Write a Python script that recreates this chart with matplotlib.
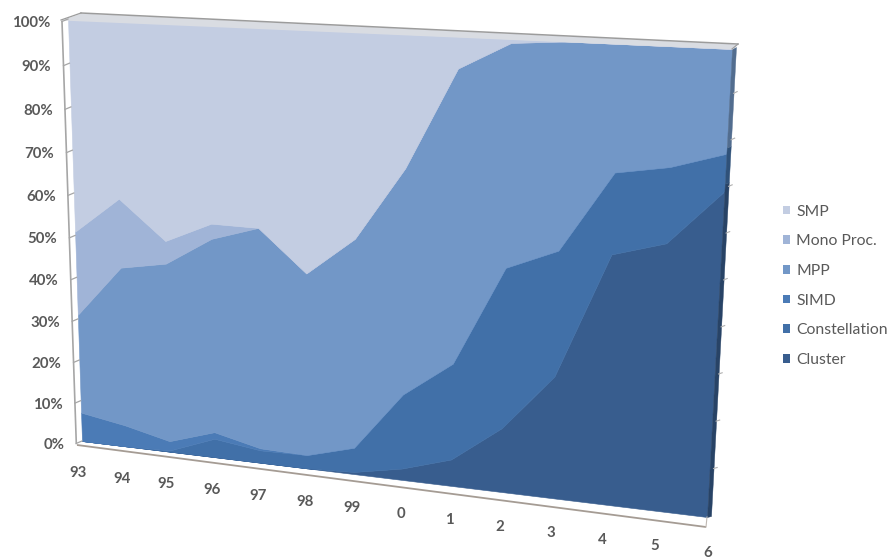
import numpy as np
import matplotlib
matplotlib.use("Agg")
import matplotlib.pyplot as plt
from matplotlib.transforms import Transform, Affine2D
from matplotlib.patches import Patch

# ---- data: share of systems per architecture (percent) ----
years = ["93", "94", "95", "96", "97", "98", "99", "0", "1", "2", "3", "4", "5", "6"]

cluster       = [0, 0, 0, 0, 0, 0, 0.5, 2.7, 6.2, 14.8, 27.8, 55.8, 59.1, 70.9]
constellation = [0, 0, 0.3, 4.5, 3.0, 3.2, 5.8, 17.4, 22.2, 36.2, 27.9, 17.5, 16.1, 7.8]
simd          = [7.1, 5.2, 2.3, 1.6, 0.5, 0, 0, 0, 0, 0, 0, 0, 0, 0]
mpp           = [24.0, 38.2, 42.7, 45.9, 51.9, 42.7, 48.4, 51.1, 64.9, 48.2, 44.3, 26.7, 24.8, 21.3]
mono_proc     = [19.9, 16.2, 5.3, 3.5, 0, 0, 0, 0, 0, 0, 0, 0, 0, 0]
smp           = [49.0, 40.4, 49.4, 44.5, 44.6, 54.1, 45.3, 28.8, 6.7, 0.8, 0, 0, 0, 0]

# stacking order, bottom to top
series = [
    ("Cluster", cluster, "#385d8e"),
    ("Constellation", constellation, "#4170a8"),
    ("SIMD", simd, "#4b7bb6"),
    ("MPP", mpp, "#7297c7"),
    ("Mono Proc.", mono_proc, "#a0b4d7"),
    ("SMP", smp, "#c3cde2"),
]

W, H = 893, 559
fig = plt.figure(figsize=(W / 100, H / 100), dpi=100)
fig.patch.set_facecolor("white")
ax = fig.add_axes([0, 0, 1, 1])
ax.set_axis_off()


class Homography(Transform):
    """Projective map of the unit square onto a quadrilateral (pixel coords, y down)."""
    input_dims = output_dims = 2
    is_separable = False
    has_inverse = False

    def __init__(self, quad):
        super().__init__()
        src = [(0, 0), (1, 0), (1, 1), (0, 1)]
        A, b = [], []
        for (u, v), (x, y) in zip(src, quad):
            A.append([u, v, 1, 0, 0, 0, -u * x, -v * x]); b.append(x)
            A.append([0, 0, 0, u, v, 1, -u * y, -v * y]); b.append(y)
        p = np.linalg.solve(np.array(A, float), np.array(b, float))
        self.m = np.append(p, 1.0).reshape(3, 3)

    def transform_non_affine(self, values):
        v = np.asarray(values, float).reshape(-1, 2)
        q = np.column_stack([v, np.ones(len(v))]) @ self.m.T
        return q[:, :2] / q[:, 2:3]


to_fig = Affine2D().scale(1 / W, -1 / H).translate(0, 1) + fig.transFigure


def chain(quad, sx=1.0, sy=1.0, dx=0.0, dy=0.0):
    return (Affine2D().scale(sx, sy) + Homography(quad)
            + Affine2D().translate(dx, dy) + to_fig)


n = len(years)
x = np.arange(n)
GRAY_TXT = "#595959"

# front face of the area block
front_quad = [(82, 441), (707, 517), (732, 49), (68, 19)]
T_front = chain(front_quad, 1 / (n - 1), 1 / 100)

vals = np.array([s[1] for s in series], float)
vals = vals / vals.sum(axis=0) * 100
tops = np.cumsum(vals, axis=0)
bottoms = np.vstack([np.zeros(n), tops[:-1]])

# floor strip and its front edge
floor_quad = [(82, 441), (707, 517), (706, 527), (77, 445)]
T_floor = chain(floor_quad)
ax.fill_between([0, 1], 0, 1, transform=T_floor, color="white", lw=0)
ax.plot([0, 1], [1, 1], transform=T_floor, color="#a59c94", lw=1.3,
        solid_capstyle="butt")
ax.plot([1, 1], [0, 1], transform=T_floor, color="#bfb8b2", lw=0.8)

# stacked areas
for (name, _, col), lo, hi in zip(series, bottoms, tops):
    ax.fill_between(x, lo, hi, transform=T_front, color=col, lw=0.4,
                    edgecolor=col)

# right side face (depth of the block)
side_quad = [(707, 517), (711, 516), (736, 47), (732, 49)]
T_side = chain(side_quad, 1.0, 1 / 100)


def darker(c, k=0.72):
    r, g, b = matplotlib.colors.to_rgb(c)
    return (r * k, g * k, b * k)


for (name, _, col), lo, hi in zip(series, bottoms, tops):
    if hi[-1] - lo[-1] > 0:
        ax.fill_between([0, 1], lo[-1], hi[-1], transform=T_side,
                        color=darker(col), lw=0.3, edgecolor=darker(col))

# right-hand tick marks on the side face
for k in range(1, 10):
    ax.plot([1.0, 1.9], [k * 10, k * 10], transform=T_side,
            color="#b0b0b0", lw=0.8)

# top rim
rim_quad = [(61, 20), (732, 49), (738, 44), (81, 13)]
T_rim = chain(rim_quad)
ax.fill_between([0, 1], 0, 1, transform=T_rim, color="#d9dce2", lw=0)
ax.plot([0, 1], [1, 1], transform=T_rim, color="#9c9c9c", lw=1.1)
ax.plot([1, 1], [0, 1], transform=T_rim, color="#9c9c9c", lw=0.8)
ax.plot([0, 0], [0, 1], transform=T_rim, color="#9c9c9c", lw=0.9)

# value axis: front line, ticks and labels (narrow wall beside the left edge)
wall_quad = [(76.3, 443.4), (82, 441), (68, 19), (62, 21.5)]
T_wall = chain(wall_quad, 1.0, 1 / 100)
ax.plot([0, 0], [0, 100], transform=T_wall, color="#a6a6a6", lw=1.2)
T_lab = chain(wall_quad, 1.0, 1 / 100, dx=-12, dy=1.5)
for k in range(0, 11):
    pct = k * 10
    ax.plot([0, 1], [pct, pct], transform=T_wall, color="#a6a6a6", lw=0.9)
    ax.text(0, pct, f"{pct}%", transform=T_lab, ha="right", va="center",
            fontsize=10.8, fontweight="bold", color=GRAY_TXT, family="Lato")

# category labels below the floor
for i, lab in enumerate(years):
    u = i / (n - 1)
    T_c = chain(front_quad, 1 / (n - 1), 1 / 100, dx=-4 + 5 * u, dy=32 + 4 * u)
    ax.text(i, 0, lab, transform=T_c, ha="center", va="center",
            fontsize=10.8, fontweight="bold", color=GRAY_TXT, family="Lato")

# legend, top series first
handles = [Patch(facecolor=c, edgecolor="none") for _, _, c in series[::-1]]
labels = [s[0] for s in series[::-1]]
leg = fig.legend(handles, labels, loc="upper left",
                 bbox_to_anchor=(783 / W, 1 - 204.5 / H), frameon=False,
                 handlelength=0.45, handleheight=0.45, handletextpad=0.4,
                 labelspacing=1.0, borderpad=0, borderaxespad=0,
                 prop={"family": "Lato", "size": 11.3})
for t in leg.get_texts():
    t.set_color(GRAY_TXT)

ax.set_xlim(0, 1)
ax.set_ylim(0, 1)
fig.savefig("out.png", dpi=100, facecolor="white")
